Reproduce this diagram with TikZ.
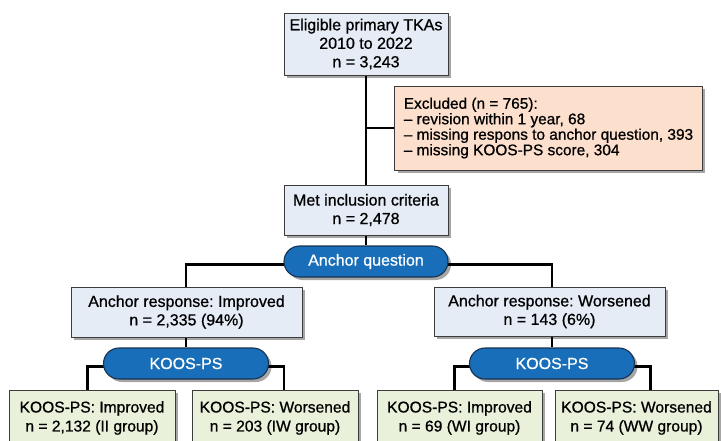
\documentclass[tikz,border=0pt]{standalone}
\usepackage{fontspec}
\setmainfont{Liberation Sans}[FakeBold=0.8]
\usetikzlibrary{shadows,backgrounds,shapes.misc}
\definecolor{boxblue}{RGB}{229,236,246}
\definecolor{boxpeach}{RGB}{252,223,205}
\definecolor{boxgreen}{RGB}{233,241,219}
\definecolor{pillblue}{RGB}{24,110,184}
\definecolor{pillborder}{RGB}{25,50,80}
\definecolor{bordergray}{RGB}{60,60,60}
\frenchspacing
\begin{document}
\begin{tikzpicture}[x=1pt,y=-1pt,
  base/.style={draw=bordergray, line width=0.9pt, align=center, inner sep=0pt,
    font=\fontsize{16}{18.5}\selectfont,
    drop shadow={shadow xshift=3pt,shadow yshift=-3pt,opacity=0.35,fill=black}},
  bluebox/.style={base, fill=boxblue},
  peachbox/.style={base, fill=boxpeach, align=left, inner xsep=9pt,
    font=\fontsize{15.4}{15.5}\selectfont},
  greenbox/.style={base, fill=boxgreen, anchor=north, minimum height=55pt,
    font=\fontsize{15.6}{19}\selectfont},
  pill/.style={base, rounded rectangle, fill=pillblue, text=white, draw=pillborder,
    line width=1.1pt, minimum height=31pt},
  conn/.style={line width=2.8pt, black}
]
\useasboundingbox (0,0) rectangle (721,440);

\node[bluebox, minimum width=164pt, minimum height=62pt] (top) at (366,44)
  {Eligible primary TKAs\\2010 to 2022\\n = 3,243};
\node[peachbox, minimum width=307pt, minimum height=84pt] (ex) at (548.5,128)
  {Excluded (n = 765):\\
   -- revision within 1 year, 68\\
   -- missing respons to anchor question, 393\\
   -- missing KOOS-PS score, 304};
\node[bluebox, minimum width=164pt, minimum height=50pt] (met) at (366,210)
  {Met inclusion criteria\\n = 2,478};
\node[pill, minimum width=164pt] (aq) at (366,261.5) {Anchor question};
\node[bluebox, minimum width=231pt, minimum height=50pt] (lb) at (186.5,312)
  {Anchor response: Improved\\n = 2,335 (94\%)};
\node[bluebox, minimum width=231pt, minimum height=49pt] (rb) at (549.5,311.5)
  {Anchor response: Worsened\\n = 143 (6\%)};
\node[pill, minimum width=165pt] (kl) at (186,363.5) {KOOS-PS};
\node[pill, minimum width=165pt] (kr) at (552,363.5) {KOOS-PS};
\node[greenbox, minimum width=166pt] (b1) at (92,390)
  {KOOS-PS: Improved\\n = 2,132 (II group)};
\node[greenbox, minimum width=166pt] (b2) at (275,390)
  {KOOS-PS: Worsened\\n = 203 (IW group)};
\node[greenbox, minimum width=165pt] (b3) at (459.5,390)
  {KOOS-PS: Improved\\n = 69 (WI group)};
\node[greenbox, minimum width=163pt] (b4) at (636.5,390)
  {KOOS-PS: Worsened\\n = 74 (WW group)};

\begin{scope}[on background layer]
  \draw[conn] (top.south) -- (met.north);
  \draw[conn] (top.south |- ex.west) -- (ex.west);
  \draw[conn] (met.south) -- (aq.north);
  \draw[conn] ([yshift=-3pt]aq.center) -| (kl.north |- lb.north);
  \draw[conn] ([yshift=-3pt]aq.center) -| (kr.north |- rb.north);
  \draw[conn] (kl.north |- lb.south) -- (kl.north);
  \draw[conn] (kr.north |- rb.south) -- (kr.north);
  \draw[conn] ([yshift=-3pt]kl.center) -| ([xshift=-4.5pt]b1.north);
  \draw[conn] ([yshift=-3pt]kl.center) -| ([xshift=9pt]b2.north);
  \draw[conn] ([yshift=-3pt]kr.center) -| ([xshift=-5pt]b3.north);
  \draw[conn] ([yshift=-3pt]kr.center) -| ([xshift=14pt]b4.north);
\end{scope}
\end{tikzpicture}
\end{document}
